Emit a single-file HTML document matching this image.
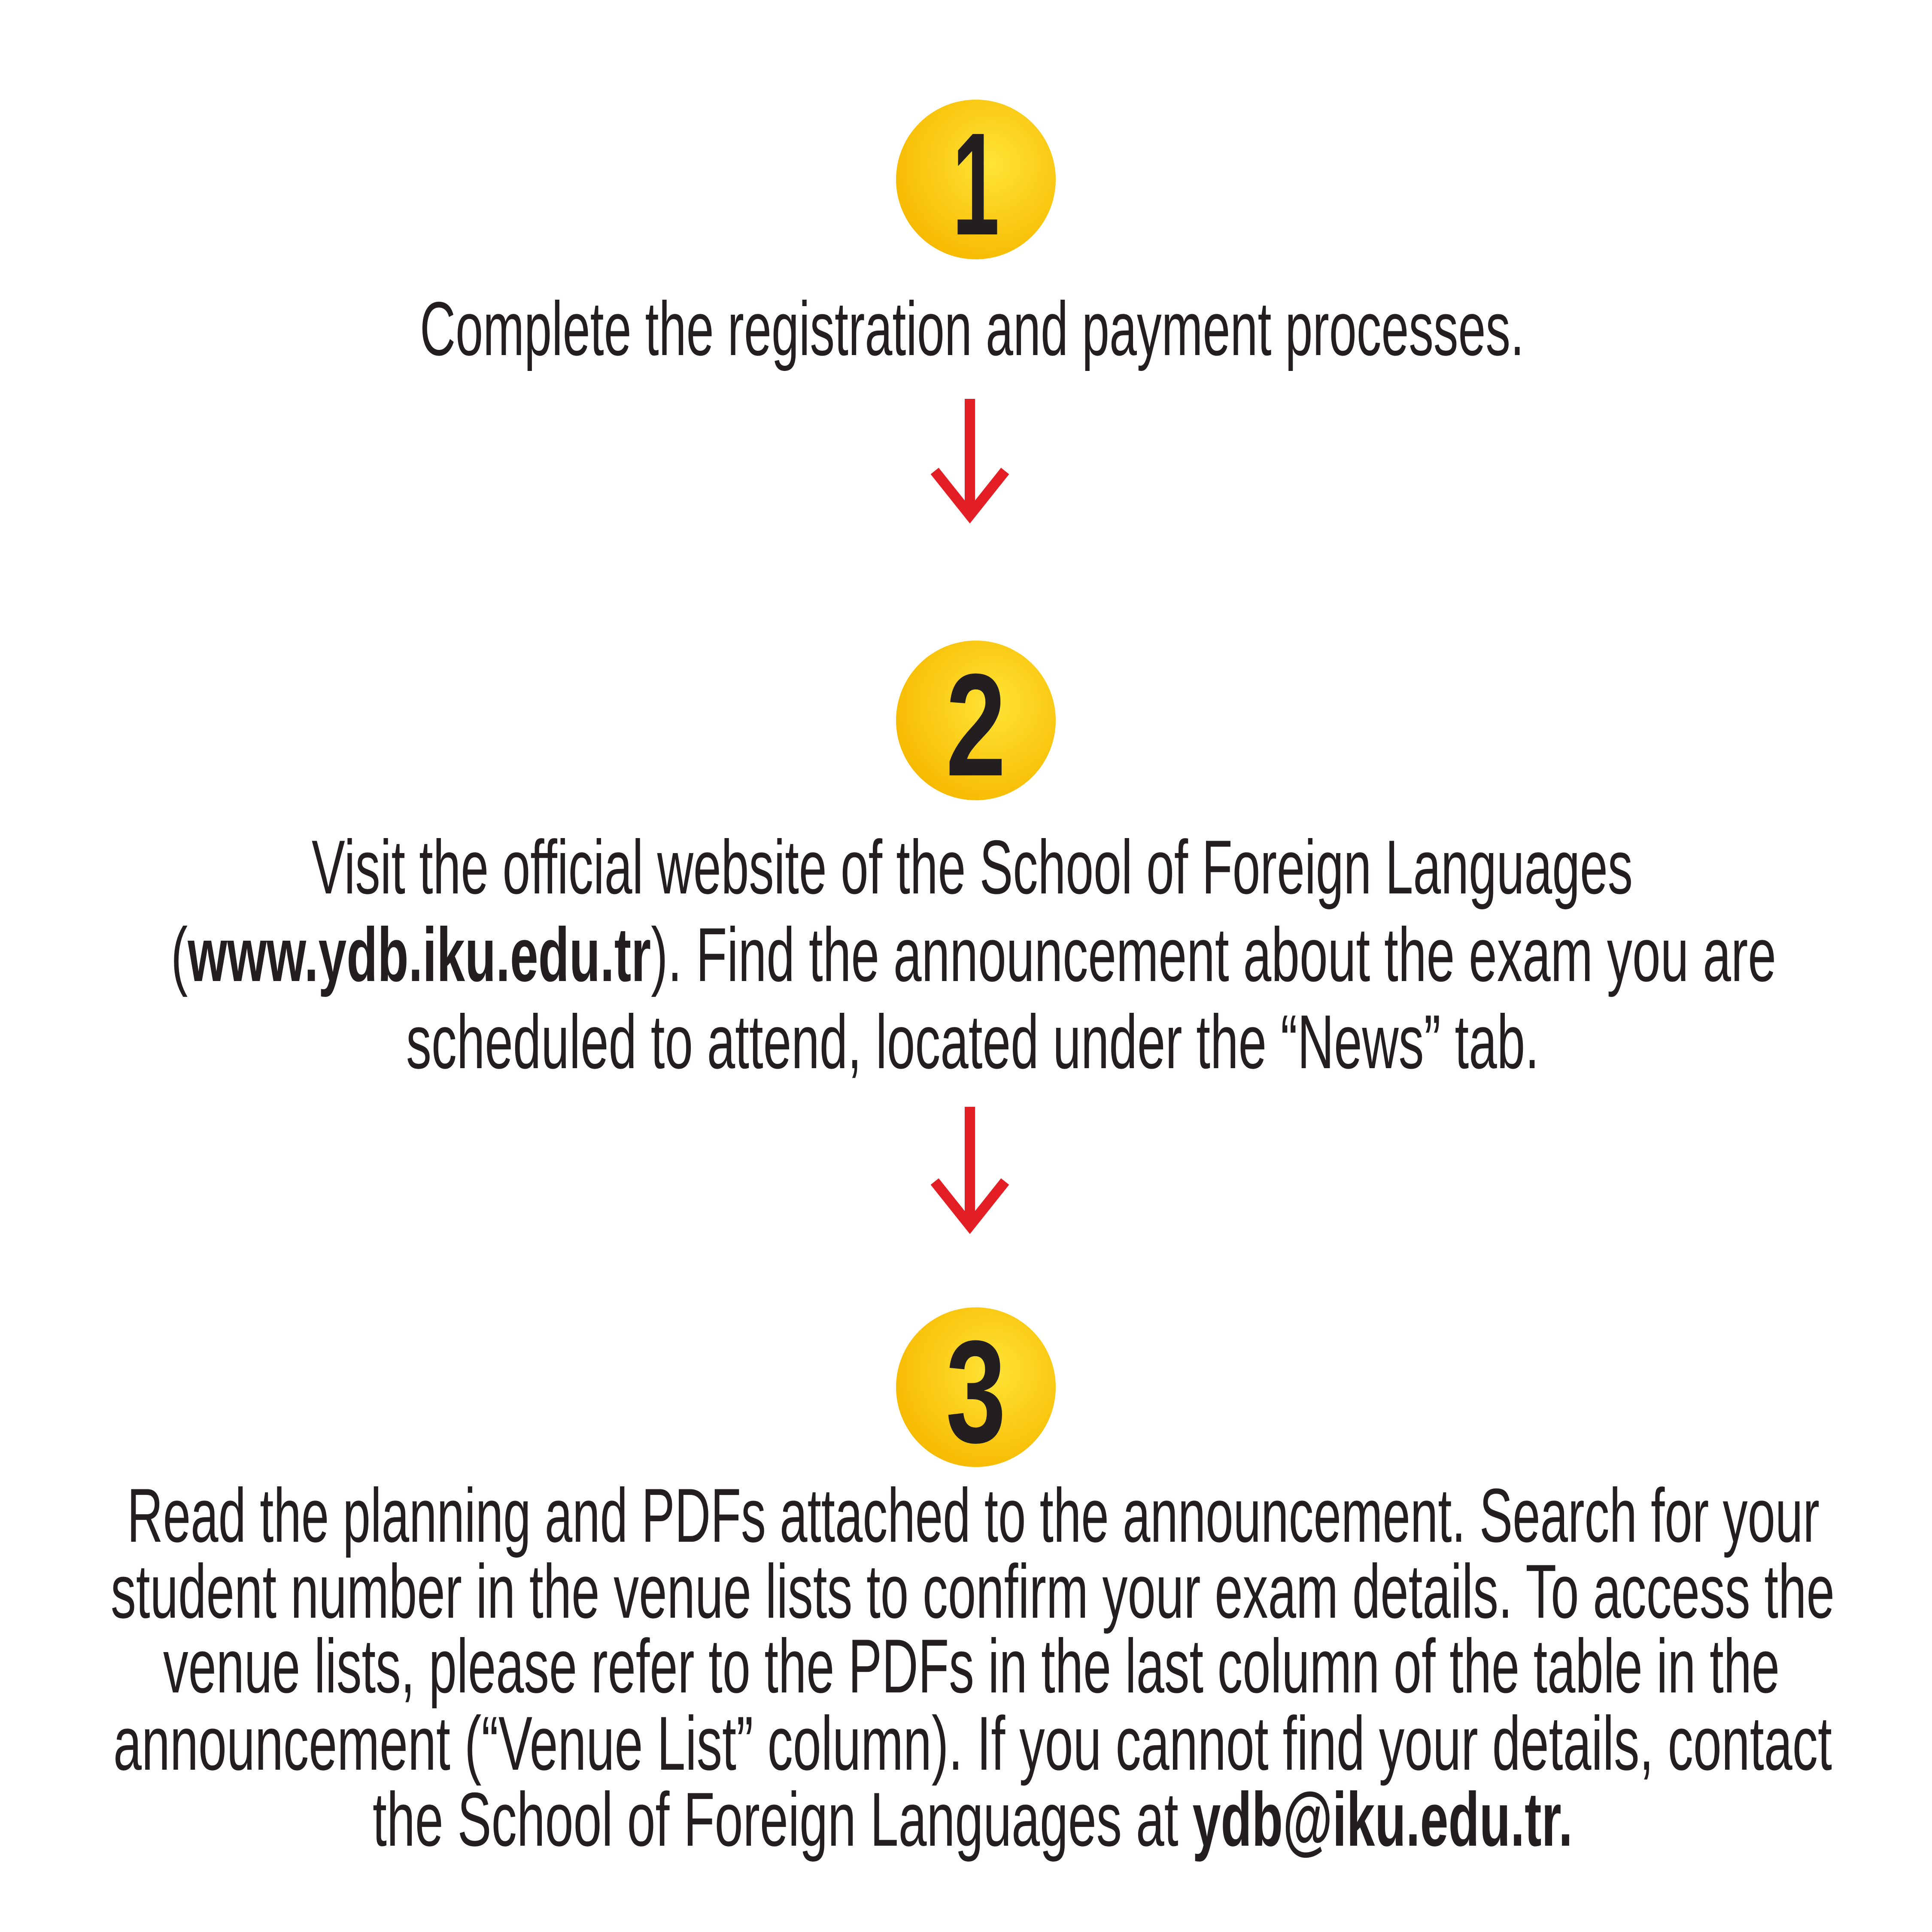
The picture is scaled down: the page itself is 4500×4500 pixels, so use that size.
<!DOCTYPE html>
<html><head><meta charset="utf-8"><style>html,body{margin:0;padding:0;background:#fff}svg{display:block}</style></head>
<body>
<svg width="4500" height="4500" viewBox="0 0 4500 4500" xmlns="http://www.w3.org/2000/svg">
<defs>
<radialGradient id="g" cx="60%" cy="40%" r="65%">
<stop offset="0" stop-color="#ffe436"/><stop offset="1" stop-color="#f7b900"/>
</radialGradient>
</defs>
<rect width="4500" height="4500" fill="#fff"/>
<g font-family="Liberation Sans, sans-serif" fill="#231f20">
<circle cx="2273" cy="418" r="186" fill="url(#g)"/>
<text x="2273" y="546" font-size="340" font-weight="bold" text-anchor="middle" textLength="110" lengthAdjust="spacingAndGlyphs">1</text>
<circle cx="2273" cy="1678" r="186" fill="url(#g)"/>
<text x="2273" y="1806" font-size="340" font-weight="bold" text-anchor="middle" textLength="140" lengthAdjust="spacingAndGlyphs">2</text>
<circle cx="2273" cy="3231" r="186" fill="url(#g)"/>
<text x="2273" y="3359" font-size="340" font-weight="bold" text-anchor="middle" textLength="140" lengthAdjust="spacingAndGlyphs">3</text>

<g font-size="178">
<text x="978" y="827" textLength="2572" lengthAdjust="spacingAndGlyphs">Complete the registration and payment processes.</text>
<text x="726" y="2081" textLength="3077" lengthAdjust="spacingAndGlyphs">Visit the official website of the School of Foreign Languages</text>
<text x="398" y="2285" textLength="3739" lengthAdjust="spacingAndGlyphs">(<tspan font-weight="bold">www.ydb.iku.edu.tr</tspan>). Find the announcement about the exam you are</text>
<text x="946" y="2488" textLength="2639" lengthAdjust="spacingAndGlyphs">scheduled to attend, located under the “News” tab.</text>
<text x="296" y="3591" textLength="3942" lengthAdjust="spacingAndGlyphs">Read the planning and PDFs attached to the announcement. Search for your</text>
<text x="258" y="3768" textLength="4015" lengthAdjust="spacingAndGlyphs">student number in the venue lists to confirm your exam details. To access the</text>
<text x="380" y="3942" textLength="3765" lengthAdjust="spacingAndGlyphs">venue lists, please refer to the PDFs in the last column of the table in the</text>
<text x="264" y="4122" textLength="4003" lengthAdjust="spacingAndGlyphs">announcement (“Venue List” column). If you cannot find your details, contact</text>
<text x="868" y="4299" textLength="2795" lengthAdjust="spacingAndGlyphs">the School of Foreign Languages at <tspan font-weight="bold">ydb@iku.edu.tr.</tspan></text>
</g>
</g>
<g stroke="#e31e24" stroke-width="24" fill="none" stroke-linecap="butt">
<line x1="2259" y1="929" x2="2259" y2="1200"/>
<polyline points="2177,1097 2259,1200 2341,1097"/>
<line x1="2259" y1="2578" x2="2259" y2="2855"/>
<polyline points="2177,2752 2259,2855 2341,2752"/>
</g>
</svg>
</body></html>
